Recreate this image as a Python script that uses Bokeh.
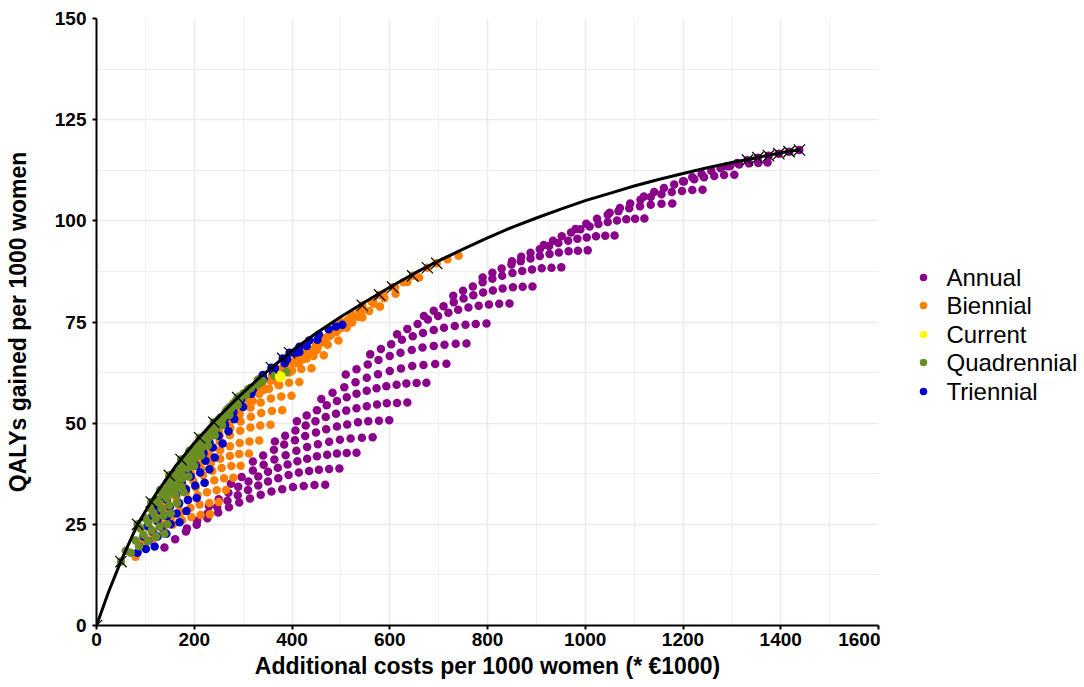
from bokeh.plotting import figure
from bokeh.models import Range1d, SingleIntervalTicker
from bokeh.core.properties import value
from bokeh.layouts import row
from bokeh.embed import file_html
from bokeh.resources import INLINE

# ---------------- data ----------------
annual_cost = [
    139, 161, 183, 205, 227, 249, 271, 292, 314, 336, 358, 380, 402, 424, 446, 468,
    185, 206, 227, 247, 268, 289, 310, 331, 351, 372, 393, 414, 435, 455, 476, 497,
    230, 250, 270, 290, 311, 331, 351, 371, 391, 411, 431, 451, 472, 492, 512, 532,
    275, 297, 320, 342, 364, 387, 409, 431, 453, 476, 498, 520, 543, 565,
    320, 341, 363, 384, 406, 427, 449, 470, 492, 513, 535, 556, 578, 599,
    365, 386, 407, 428, 448, 469, 490, 511, 532, 553, 574, 594, 615, 636,
    410, 430, 451, 471, 492, 512, 532, 553, 573, 593, 614, 634, 655, 675,
    460, 483, 507, 530, 553, 576, 600, 623, 646, 669, 693, 716,
    510, 532, 555, 577, 600, 622, 645, 667, 690, 712, 735, 757,
    560, 582, 603, 625, 647, 668, 690, 711, 733, 755, 776, 798,
    615, 636, 657, 678, 699, 720, 740, 761, 782, 803, 824, 845,
    670, 690, 710, 731, 751, 771, 791, 811, 831, 852, 872, 892,
    730, 750, 770, 790, 810, 830, 851, 871, 891, 911, 931, 951,
    790, 810, 829, 849, 868, 888, 907, 927, 946, 966, 985, 1005,
    850, 869, 888, 907, 926, 945, 965, 984, 1003, 1022, 1041, 1060,
    915, 934, 952, 971, 990, 1009, 1027, 1046, 1065, 1084, 1102, 1121,
    980, 1002, 1024, 1046, 1068, 1090, 1112, 1134, 1156, 1178,
    1050, 1071, 1092, 1113, 1134, 1156, 1177, 1198, 1219, 1240,
    1120, 1141, 1161, 1182, 1202, 1223, 1243, 1264, 1284, 1305,
    1200, 1219, 1238, 1258, 1277, 1296, 1315, 1335, 1354, 1373,
    1290, 1311, 1332, 1353, 1375, 1396, 1417, 1438,
]
annual_qaly = [
    19.3, 21.3, 23.2, 24.9, 26.5, 27.9, 29.2, 30.4, 31.4, 32.3, 33.1, 33.7, 34.2, 34.5, 34.7, 34.8,
    24.0, 25.9, 27.7, 29.3, 30.8, 32.2, 33.5, 34.6, 35.6, 36.4, 37.2, 37.8, 38.2, 38.5, 38.7, 38.8,
    29.5, 31.2, 32.8, 34.3, 35.6, 36.8, 38.0, 39.0, 39.8, 40.6, 41.2, 41.8, 42.2, 42.5, 42.6, 42.7,
    35.0, 36.7, 38.3, 39.7, 41.0, 42.1, 43.2, 44.1, 44.8, 45.4, 45.9, 46.2, 46.4, 46.5,
    40.5, 42.0, 43.4, 44.7, 45.8, 46.8, 47.7, 48.5, 49.2, 49.7, 50.2, 50.5, 50.6, 50.7,
    45.5, 46.9, 48.2, 49.4, 50.5, 51.5, 52.3, 53.1, 53.7, 54.2, 54.6, 54.9, 55.0, 55.1,
    50.5, 51.9, 53.2, 54.4, 55.5, 56.4, 57.3, 58.0, 58.6, 59.1, 59.5, 59.8, 59.9, 60.0,
    56.0, 57.5, 58.9, 60.1, 61.2, 62.1, 62.9, 63.5, 64.1, 64.4, 64.6, 64.7,
    62.0, 63.3, 64.5, 65.6, 66.6, 67.4, 68.1, 68.7, 69.1, 69.4, 69.6, 69.7,
    67.0, 68.3, 69.5, 70.6, 71.5, 72.3, 73.0, 73.6, 74.0, 74.3, 74.5, 74.6,
    72.0, 73.3, 74.5, 75.6, 76.5, 77.3, 78.0, 78.6, 79.0, 79.3, 79.5, 79.6,
    76.5, 77.8, 78.9, 79.9, 80.8, 81.6, 82.3, 82.8, 83.3, 83.6, 83.7, 83.8,
    81.5, 82.7, 83.8, 84.8, 85.7, 86.4, 87.1, 87.6, 88.0, 88.3, 88.4, 88.5,
    86.0, 87.2, 88.2, 89.2, 90.0, 90.7, 91.3, 91.8, 92.2, 92.5, 92.6, 92.7,
    90.0, 91.1, 92.1, 93.0, 93.8, 94.5, 95.1, 95.6, 95.9, 96.2, 96.3, 96.4,
    94.0, 95.1, 96.2, 97.1, 97.9, 98.6, 99.2, 99.7, 100.1, 100.4, 100.5, 100.6,
    98.0, 99.3, 100.5, 101.5, 102.4, 103.1, 103.6, 104.0, 104.2, 104.3,
    102.0, 103.2, 104.3, 105.2, 105.9, 106.6, 107.1, 107.4, 107.6, 107.7,
    106.0, 107.1, 108.1, 109.0, 109.7, 110.3, 110.8, 111.1, 111.3, 111.4,
    109.8, 110.8, 111.6, 112.4, 113.0, 113.5, 113.9, 114.2, 114.3, 114.4,
    113.5, 114.3, 115.0, 115.6, 116.1, 116.6, 117.1, 117.5,
]

biennial_cost = [
    80, 99, 118, 137, 156, 175, 194, 213, 232,
    95, 114, 134, 153, 173, 192, 211, 231, 250,
    110, 129, 149, 168, 188, 207, 226, 246, 265,
    125, 144, 164, 183, 203, 222, 241, 261, 280,
    140, 159, 179, 198, 218, 237, 256, 276, 295,
    155, 175, 194, 214, 234, 253, 273, 292, 312,
    172, 192, 212, 232, 253, 273, 293, 313, 333,
    190, 211, 232, 252, 273, 294, 315, 335, 356,
    210, 231, 252, 274, 295, 316, 337, 359, 380,
    230, 251, 272, 293, 315, 336, 357, 378, 399,
    250, 271, 291, 312, 333, 353, 374, 394, 415,
    272, 293, 314, 335, 356, 377, 398, 419, 440,
    295, 316, 338, 359, 380, 401, 423, 444, 465,
    320, 342, 364, 386, 408, 429, 451, 473, 495,
    345, 366, 387, 408, 429, 449, 470, 491, 512,
    372, 394, 415, 437, 458, 480, 501, 523, 544,
    400, 423, 445, 468, 490, 513, 535, 558, 580,
    430, 453, 476, 498, 521, 544, 567, 589, 612,
    465, 489, 514, 538, 563, 587, 611, 636, 660,
    500, 522, 544, 566, 579, 606, 628, 647, 677, 696, 718, 741,
]
biennial_qaly = [
    17.0, 19.5, 21.6, 23.4, 24.9, 26.0, 26.8, 27.3, 27.5,
    20.5, 22.8, 24.9, 26.6, 28.0, 29.1, 29.9, 30.3, 30.5,
    24.0, 26.2, 28.2, 29.8, 31.1, 32.2, 32.9, 33.4, 33.5,
    27.0, 29.2, 31.2, 32.8, 34.1, 35.2, 35.9, 36.4, 36.5,
    30.0, 32.2, 34.2, 35.8, 37.1, 38.2, 38.9, 39.4, 39.5,
    33.0, 35.2, 37.2, 38.8, 40.1, 41.2, 41.9, 42.4, 42.5,
    36.0, 38.3, 40.2, 41.9, 43.3, 44.3, 45.1, 45.5, 45.7,
    39.0, 41.5, 43.6, 45.5, 47.0, 48.1, 48.9, 49.4, 49.6,
    42.0, 44.6, 46.9, 48.8, 50.4, 51.6, 52.5, 53.0, 53.2,
    45.0, 47.8, 50.2, 52.2, 53.9, 55.1, 56.1, 56.6, 56.8,
    48.0, 50.9, 53.3, 55.4, 57.2, 58.5, 59.4, 60.0, 60.2,
    51.0, 54.0, 56.5, 58.7, 60.5, 61.8, 62.8, 63.4, 63.6,
    54.0, 57.0, 59.6, 61.8, 63.6, 65.0, 66.0, 66.6, 66.8,
    55.5, 58.2, 60.6, 62.8, 64.8, 66.6, 68.1, 69.4, 70.4,
    58.5, 61.2, 63.7, 65.9, 67.9, 69.7, 71.2, 72.5, 73.6,
    59.5, 62.5, 65.2, 67.7, 69.9, 71.8, 73.5, 74.9, 76.1,
    63.0, 65.8, 68.4, 70.8, 72.9, 74.7, 76.3, 77.7, 78.8,
    66.0, 68.9, 71.5, 73.9, 76.0, 77.9, 79.5, 80.9, 82.0,
    70.0, 72.9, 75.5, 77.9, 80.0, 81.9, 83.5, 84.9, 86.0,
    75.0, 76.9, 79.1, 80.4, 81.7, 83.6, 84.8, 86.4, 88.4, 89.5, 90.5, 91.4,
]

triennial_cost = [
    84, 101, 119,
    88, 106, 125, 143,
    96, 115, 133, 152, 170,
    104, 124, 144, 164, 184,
    114, 132, 150, 169, 187, 205,
    125, 144, 163, 183, 202, 221,
    136, 155, 174, 193, 212, 231,
    148, 167, 186, 204, 223, 242,
    160, 180, 199, 219, 238, 258,
    172, 192, 211, 231, 250, 270,
    185, 204, 224, 243, 263, 282,
    198, 218, 239, 259, 280, 300,
    212, 233, 254, 275, 296, 317,
    228, 250, 272, 293, 315, 337,
    245, 268, 292, 315, 339, 362,
    265, 289, 313, 337, 361, 385,
    290, 315, 340, 365, 390, 415,
    320, 342, 364, 386, 408, 430, 452,
    340, 358, 381, 395, 415, 435, 455, 475, 490, 503,
]
triennial_qaly = [
    18.0, 18.9, 19.5,
    19.5, 20.9, 22.0, 22.7,
    22.0, 23.2, 24.2, 25.0, 25.5,
    24.5, 25.8, 26.9, 27.7, 28.3,
    27.0, 28.3, 29.3, 30.2, 31.0, 31.5,
    29.5, 31.1, 32.5, 33.7, 34.6, 35.3,
    32.0, 33.8, 35.4, 36.8, 37.8, 38.6,
    34.5, 36.5, 38.1, 39.5, 40.7, 41.5,
    36.5, 38.9, 40.9, 42.6, 44.0, 45.0,
    38.5, 41.2, 43.4, 45.3, 46.9, 48.0,
    40.5, 43.4, 46.0, 48.1, 49.7, 51.0,
    43.0, 46.1, 48.7, 50.9, 52.7, 54.0,
    45.0, 48.4, 51.4, 53.9, 55.8, 57.3,
    47.0, 50.7, 53.9, 56.4, 58.5, 60.3,
    49.2, 52.9, 56.1, 58.7, 60.8, 62.4,
    51.5, 55.2, 58.4, 61.1, 63.2, 64.8,
    54.8, 58.2, 61.1, 63.6, 65.8, 67.6,
    58.3, 61.0, 63.4, 65.5, 67.4, 69.1, 70.6,
    61.9, 63.7, 66.0, 67.4, 68.9, 70.4, 71.9, 73.2, 73.9, 74.3,
]

quadrennial_cost = [
    70, 87, 105, 122, 139,
    80, 96, 113, 129, 145,
    90, 106, 121, 137, 152,
    100, 116, 133, 149, 165,
    110, 127, 144, 161, 178,
    122, 135, 148, 161, 174,
    135, 148, 162, 175, 188,
    148, 161, 174, 187, 200,
    162, 175, 188, 201, 214,
    176, 189, 202, 215, 228,
    190, 203, 216, 229, 242,
    205, 218, 231, 244, 257,
    220, 233, 246, 259, 272,
    237, 250, 263, 276, 289,
    254, 267, 280, 293, 306,
    272, 286, 301, 315, 330,
    292, 316, 340, 364, 388,
    50, 60, 84, 112, 130, 149, 173, 190, 211, 240, 265, 289, 310, 330,
]
quadrennial_qaly = [
    18.0, 19.6, 20.9, 22.0, 22.7,
    21.0, 22.4, 23.5, 24.4, 25.0,
    24.0, 25.3, 26.3, 27.1, 27.7,
    26.5, 27.8, 28.9, 29.7, 30.3,
    29.0, 30.4, 31.5, 32.4, 33.0,
    31.2, 32.3, 33.1, 33.8, 34.3,
    33.5, 34.6, 35.6, 36.3, 36.8,
    36.0, 37.2, 38.2, 39.0, 39.5,
    38.0, 39.4, 40.5, 41.4, 42.0,
    40.2, 41.7, 42.9, 43.8, 44.5,
    42.3, 43.9, 45.2, 46.3, 47.0,
    44.5, 46.2, 47.6, 48.7, 49.5,
    46.6, 48.5, 50.0, 51.2, 52.0,
    49.0, 50.9, 52.4, 53.6, 54.5,
    51.3, 53.3, 54.9, 56.1, 57.0,
    53.8, 55.8, 57.4, 58.6, 59.5,
    56.6, 58.7, 60.4, 61.7, 62.6,
    15.8, 18.5, 25.0, 30.5, 33.5, 37.1, 41.0, 43.2, 46.4, 50.2, 53.0, 56.3, 58.4, 60.7,
]

current_cost = [376]
current_qaly = [61.5]

# efficient frontier (fitted curve) and efficient strategies
frontier_cost = [0, 25, 50, 84, 120, 160, 200, 240, 290, 333, 400, 450, 500, 550, 600, 650,
                 700, 750, 800, 850, 900, 950, 1000, 1050, 1100, 1150, 1200, 1250, 1300,
                 1350, 1400, 1440]
frontier_qaly = [0, 8.4, 15.9, 25.0, 32.2, 39.1, 45.1, 50.4, 56.4, 61.2, 67.9, 72.3, 76.3, 80.0,
                 83.6, 87.0, 90.1, 93.0, 95.8, 98.4, 100.7, 102.9, 105.0, 106.8, 108.6, 110.2,
                 111.7, 113.1, 114.4, 115.6, 116.8, 117.6]
efficient_cost = [0, 50, 84, 112, 149, 173, 211, 240, 289, 358, 381, 395, 544, 579, 606, 647,
                  677, 696, 1332, 1353, 1375, 1396, 1417, 1438]
efficient_qaly = [0, 15.8, 25.0, 30.5, 37.1, 41.0, 46.4, 50.2, 56.3, 63.7, 66.0, 67.4, 79.1, 81.7,
                  83.6, 86.4, 88.4, 89.5, 115.0, 115.6, 116.1, 116.6, 117.1, 117.5]

series_labels = ["Annual", "Biennial", "Current", "Quadrennial", "Triennial"]
series_colors = ["#8B008B", "#FF7F00", "#FFFF00", "#6B8E23", "#0000CD"]

x_ticks_interval = 200
y_ticks_interval = 25

# ---------------- main figure ----------------
FONT = "Liberation Sans"
p = figure(width=880, height=686,
           x_range=Range1d(0, 1600), y_range=Range1d(0, 150),
           output_backend="svg", toolbar_location=None,
           min_border_left=96, min_border_right=2,
           min_border_top=18, min_border_bottom=61)
p.outline_line_color = None
p.background_fill_color = "white"
p.border_fill_color = "white"

p.xaxis.ticker = SingleIntervalTicker(interval=x_ticks_interval, num_minor_ticks=2)
p.yaxis.ticker = SingleIntervalTicker(interval=y_ticks_interval, num_minor_ticks=2)
for g in (p.xgrid, p.ygrid):
    g.grid_line_color = "#EBEBEB"
    g.grid_line_width = 1.6
    g.minor_grid_line_color = "#EFEFEF"
    g.minor_grid_line_width = 1.0

for ax in (p.xaxis, p.yaxis):
    ax.axis_line_color = "black"
    ax.axis_line_width = 2
    ax.major_tick_line_color = "black"
    ax.major_tick_line_width = 2
    ax.major_tick_in = 0
    ax.major_tick_out = 4
    ax.minor_tick_line_color = None
    ax.major_label_text_font = FONT
    ax.major_label_text_font_style = "bold"
    ax.major_label_text_font_size = "19px"
    ax.major_label_text_color = "black"
    ax.axis_label_text_font = FONT
    ax.axis_label_text_font_style = "bold"
    ax.axis_label_text_font_size = "23px"
    ax.axis_label_text_color = "black"

p.xaxis.axis_label = "Additional costs per 1000 women (* €1000)"
p.yaxis.axis_label = "QALYs gained per 1000 women"
p.xaxis.major_label_standoff = 3
p.xaxis.axis_label_standoff = 4
p.yaxis.major_label_standoff = 6
p.yaxis.axis_label_standoff = 21

PT = 8.5
p.scatter(annual_cost, annual_qaly, size=PT, fill_color=series_colors[0], line_color=None)
p.scatter(biennial_cost, biennial_qaly, size=PT, fill_color=series_colors[1], line_color=None)
p.scatter(triennial_cost, triennial_qaly, size=PT, fill_color=series_colors[4], line_color=None)
p.scatter(quadrennial_cost, quadrennial_qaly, size=PT, fill_color=series_colors[3], line_color=None)
p.scatter(current_cost, current_qaly, size=11, fill_color=series_colors[2], line_color=None)

p.line(frontier_cost, frontier_qaly, line_color="black", line_width=3)
p.scatter(efficient_cost, efficient_qaly, marker="x", size=16, line_color="black", line_width=1.2)

# ---------------- legend (separate panel to the right) ----------------
# the legend figure's frame is aligned with the main frame (607 px tall, top at 18 px)
leg_w, leg_h = 200, 686
leg = figure(width=leg_w, height=leg_h, x_range=Range1d(0, leg_w), y_range=Range1d(0, 607),
             output_backend="svg", toolbar_location=None,
             x_axis_location=None, y_axis_location=None,
             min_border_left=0, min_border_right=0, min_border_top=18, min_border_bottom=61)
leg.outline_line_color = None
leg.grid.visible = False
leg.background_fill_color = "white"
leg.border_fill_color = "white"

leg_row_y = [625 - 277, 625 - 305, 625 - 334, 625 - 362, 625 - 391]
leg.scatter([43] * 5, leg_row_y, size=7.5, fill_color=series_colors, line_color=None)
leg.text([66] * 5, leg_row_y, text=series_labels, text_font_size=value("24px"),
         text_baseline="middle", text_align="left", text_color="black",
         text_font=value("Liberation Sans"))

open("out.html", "w").write(file_html(row(p, leg), INLINE))
